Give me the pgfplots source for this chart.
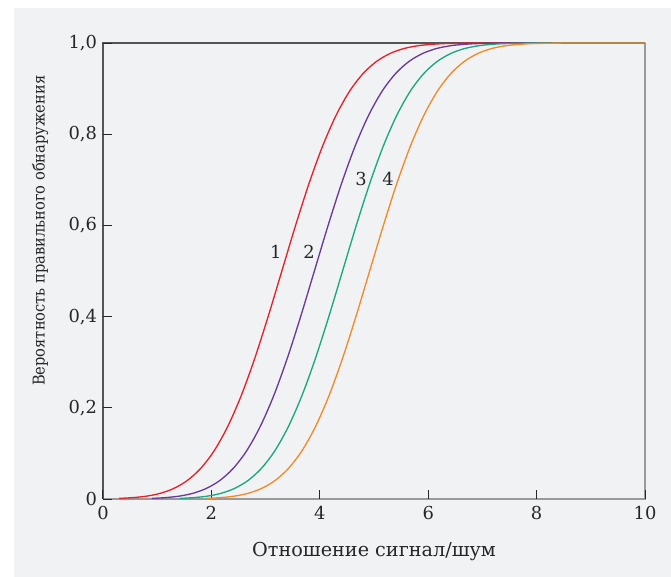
\documentclass[border=0pt]{standalone}
\usepackage{pgfplots}
\pgfplotsset{compat=1.18}
\usepackage{fontspec}
\setmainfont{DejaVu Serif}
\newfontfamily\condfont{DejaVu Serif Condensed}
\definecolor{bggray}{HTML}{F1F2F4}
\definecolor{cred}{HTML}{E8202A}
\definecolor{cpurple}{HTML}{6A3A9A}
\definecolor{cgreen}{HTML}{1AA880}
\definecolor{corange}{HTML}{F28A2A}
\definecolor{framedark}{HTML}{555555}
\definecolor{framelight}{HTML}{9A9A9A}
\begin{document}
\begin{tikzpicture}
\path[use as bounding box] (-77.25pt,-57.75pt) rectangle ++(503.25pt,432pt);
\fill[bggray] (-66.75pt,-62pt) rectangle (432pt,368.25pt);
\draw[framelight, line width=1.1pt] (0,0) -- (406.5pt,0) -- (406.5pt,342pt);
\draw[framedark, line width=0.9pt] (0,0) -- (0,342pt) -- (406.5pt,342pt);
\begin{axis}[
  scale only axis,
  width=406.5pt, height=342pt,
  xmin=0, xmax=10, ymin=0, ymax=1,
  axis line style={draw=none},
  clip=false,
  tick align=inside,
  tick pos=left,
  major tick length=6.75pt,
  tick style={black!85, line width=0.75pt},
  xtick={0,2,4,6,8,10},
  xticklabels={0,2,4,6,8,10},
  ytick={0,0.2,0.4,0.6,0.8,1},
  yticklabels={0,{0,2},{0,4},{0,6},{0,8},{1,0}},
  ticklabel style={font=\fontsize{13.4pt}{16pt}\selectfont, text=black!85},
  xticklabel style={yshift=-2pt},
  yticklabel style={xshift=-1pt},
  xlabel={Отношение сигнал/шум},
  ylabel={Вероятность правильного обнаружения},
  xlabel style={font=\fontsize{14.4pt}{17pt}\selectfont, text=black!85, at={(axis description cs:0.5,0)}, anchor=base, yshift=-42.75pt},
  ylabel style={font=\condfont\fontsize{12.2pt}{15pt}\selectfont, text=black!85, at={([xshift=-47.25pt]axis description cs:0,0.588)}, anchor=center},
  every axis plot/.append style={line width=1pt, smooth},
]
\addplot[cred] coordinates {(0.30,0.0013) (0.55,0.0030) (0.80,0.0062) (1.05,0.0122) (1.30,0.0228) (1.55,0.0401) (1.80,0.0668) (2.05,0.1056) (2.30,0.1587) (2.55,0.2266) (2.80,0.3085) (3.05,0.4013) (3.30,0.5000) (3.55,0.5987) (3.80,0.6915) (4.05,0.7734) (4.30,0.8413) (4.55,0.8944) (4.80,0.9332) (5.05,0.9599) (5.30,0.9772) (5.55,0.9878) (5.80,0.9938) (6.05,0.9970) (6.30,0.9987) (6.55,0.9994) (6.80,0.9998) (7.30,1.0) (10,1.0)};
\addplot[cpurple] coordinates {(0.90,0.0013) (1.15,0.0030) (1.40,0.0062) (1.65,0.0122) (1.90,0.0228) (2.15,0.0401) (2.40,0.0668) (2.65,0.1056) (2.90,0.1587) (3.15,0.2266) (3.40,0.3085) (3.65,0.4013) (3.90,0.5000) (4.15,0.5987) (4.40,0.6915) (4.65,0.7734) (4.90,0.8413) (5.15,0.8944) (5.40,0.9332) (5.65,0.9599) (5.90,0.9772) (6.15,0.9878) (6.40,0.9938) (6.65,0.9970) (6.90,0.9987) (7.15,0.9994) (7.40,0.9998) (7.90,1.0) (10,1.0)};
\addplot[cgreen] coordinates {(1.42,0.0013) (1.67,0.0030) (1.92,0.0062) (2.17,0.0122) (2.42,0.0228) (2.67,0.0401) (2.92,0.0668) (3.17,0.1056) (3.42,0.1587) (3.67,0.2266) (3.92,0.3085) (4.17,0.4013) (4.42,0.5000) (4.67,0.5987) (4.92,0.6915) (5.17,0.7734) (5.42,0.8413) (5.67,0.8944) (5.92,0.9332) (6.17,0.9599) (6.42,0.9772) (6.67,0.9878) (6.92,0.9938) (7.17,0.9970) (7.42,0.9987) (7.67,0.9994) (7.92,0.9998) (8.42,1.0) (10,1.0)};
\addplot[corange] coordinates {(1.92,0.0013) (2.17,0.0030) (2.42,0.0062) (2.67,0.0122) (2.92,0.0228) (3.17,0.0401) (3.42,0.0668) (3.67,0.1056) (3.92,0.1587) (4.17,0.2266) (4.42,0.3085) (4.67,0.4013) (4.92,0.5000) (5.17,0.5987) (5.42,0.6915) (5.67,0.7734) (5.92,0.8413) (6.17,0.8944) (6.42,0.9332) (6.67,0.9599) (6.92,0.9772) (7.17,0.9878) (7.42,0.9938) (7.67,0.9970) (7.92,0.9987) (8.17,0.9994) (8.42,0.9998) (8.92,1.0) (10,1.0)};
\node[font=\fontsize{13.4pt}{16pt}\selectfont, text=black!85] at (axis cs:3.19,0.542) {1};
\node[font=\fontsize{13.4pt}{16pt}\selectfont, text=black!85] at (axis cs:3.80,0.542) {2};
\node[font=\fontsize{13.4pt}{16pt}\selectfont, text=black!85] at (axis cs:4.76,0.702) {3};
\node[font=\fontsize{13.4pt}{16pt}\selectfont, text=black!85] at (axis cs:5.26,0.702) {4};
\end{axis}
\end{tikzpicture}
\end{document}
